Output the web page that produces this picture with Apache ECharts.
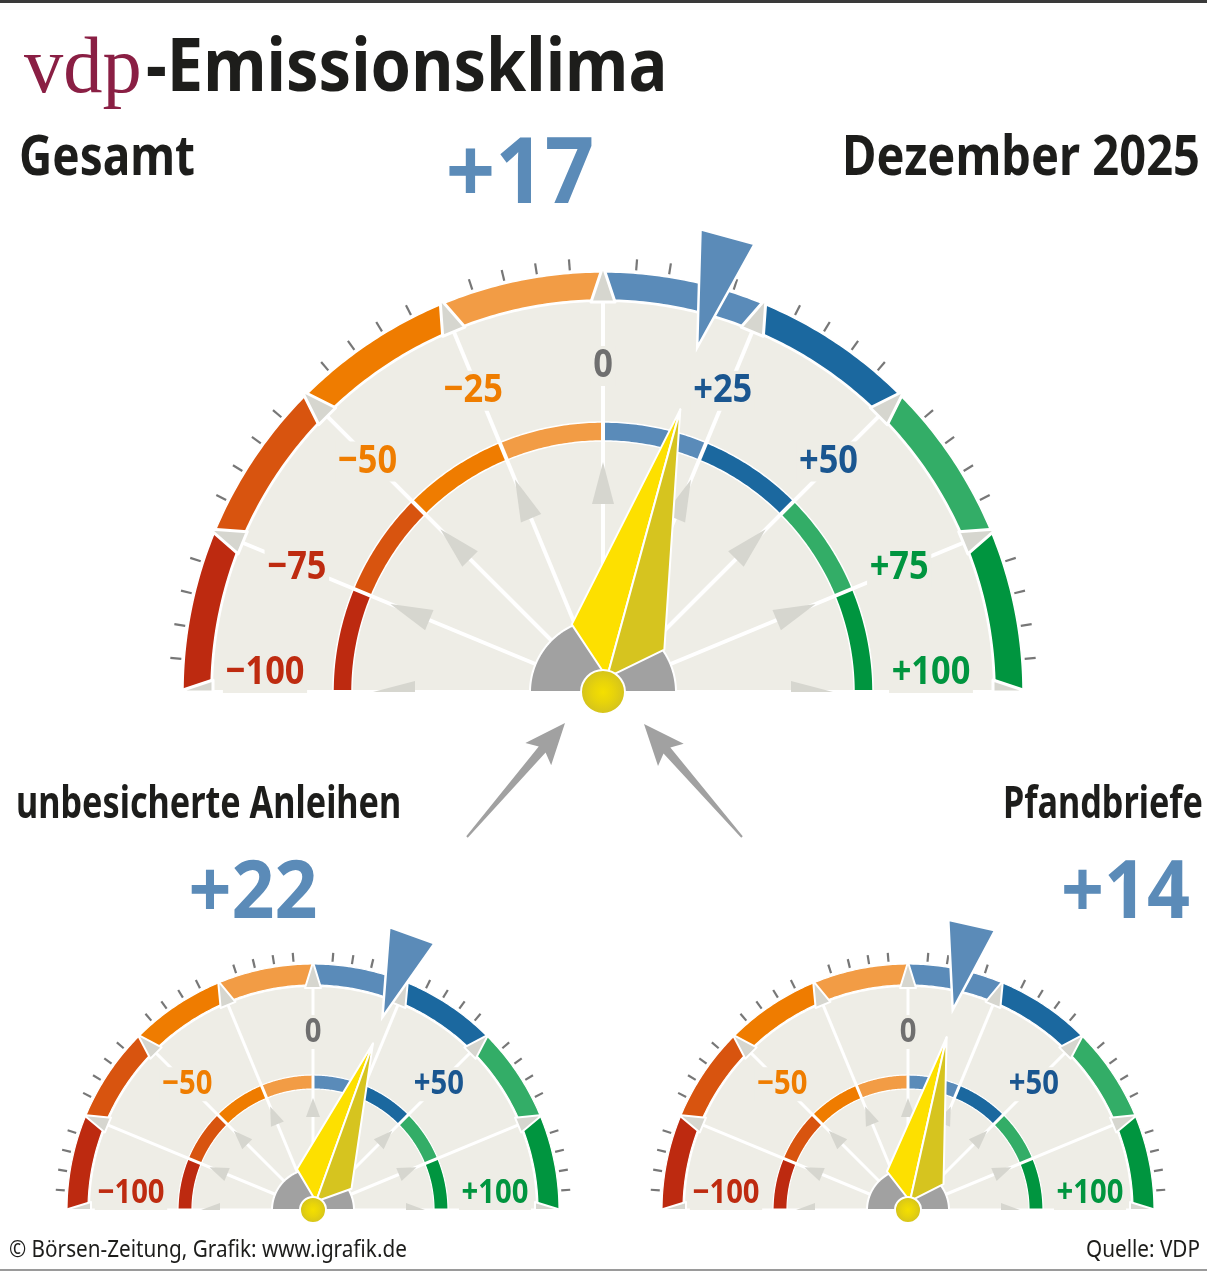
<!DOCTYPE html>
<html>
<head>
<meta charset="utf-8">
<script src="https://cdn.jsdelivr.net/npm/echarts@6/dist/echarts.min.js"></script>
<style>
  html, body { margin: 0; padding: 0; background: #fff; }
  #chart { width: 1207px; height: 1273px; }
</style>
</head>
<body>
<div id="chart"></div>
<script>
// --- values ---
var gaugeNames = ['Gesamt', 'unbesicherte Anleihen', 'Pfandbriefe'];
var gaugeValues = [17, 22, 14];
var reportMonth = 'Dezember 2025';
var bandEdges = [-100, -75, -50, -25, 0, 25, 50, 75, 100];
var mainLabels = ['−100', '−75', '−50', '−25', '0', '+25', '+50', '+75', '+100'];
var smallLabelValues = [-100, -50, 0, 50, 100];
var smallLabels = ['−100', '−50', '0', '+50', '+100'];
var tickStep = 5;
var footerLeft = '© Börsen-Zeitung, Grafik: www.igrafik.de';
var footerRight = 'Quelle: VDP';

// --- styles ---
var bandColors = ['#bd2a10', '#d8540f', '#ef7c00', '#f29c45', '#5a8bb9', '#1b689f', '#33ad67', '#00953f'];
var FILL = '#eeede6', TRI = '#d6d6cf', HUBGRAY = '#a1a1a1', TICK = '#777777';
var BLUE = '#5b8bb8', INK = '#1d1d1b';
var NEEDLE_A = '#fde000', NEEDLE_B = '#d6c41f';
var FONT = '"Noto Sans", "Open Sans", sans-serif';
var DEG_PER_UNIT = 180 / 200;

// gauge geometry (pixels)
var mainGeo = {cx: 603, cy: 692, R: 420, bandIn: 392, fillR: 390, inOut: 270, inIn: 251, hub: 73, spokeW: 4,
  triTip: 426, triBase: 390, triW: 12, triStroke: 3, arrBase: 188, arrTip: 230, arrW: 11, tick0: 423, tick1: 434,
  lblR: 326, lblFont: 40, lbl100R: 333, lbl100dy: -19, lblDx: -5, needleTip: 293, needleMid: 57, needleW: 48,
  needleBase: 15, hubR: 22, mkBase: 472, mkTip: 357, mkW: 28, bandStroke: 1.5};
function smallGeo(cx) {
  return {cx: cx, cy: 1210, R: 246, bandIn: 225, fillR: 223, inOut: 135, inIn: 121, hub: 41, spokeW: 3,
    triTip: 248, triBase: 222, triW: 8, triStroke: 2, arrBase: 93, arrTip: 112, arrW: 7, tick0: 249, tick1: 258,
    lblR: 178, lblFont: 34, lbl100R: 182, lbl100dy: -17, lblDx: 0, needleTip: 177, needleMid: 33, needleW: 29,
    needleBase: 9, hubR: 13, mkBase: 292, mkTip: 205, mkW: 24, bandStroke: 1.2};
}
var geo = [mainGeo, smallGeo(313), smallGeo(908)];

var tickValues = [];
for (var t = bandEdges[0]; t <= bandEdges[bandEdges.length - 1]; t += tickStep) {
  if ((t - bandEdges[0]) % (bandEdges[1] - bandEdges[0]) !== 0) tickValues.push(t);
}

// ring segment as polygon through the polar scale
function arcPoly(api, r0, r1, v0, v1) {
  var pts = [], n = Math.max(4, Math.ceil(Math.abs(v1 - v0) * 1.5)), k;
  for (k = 0; k <= n; k++) pts.push(api.coord([r1, v0 + (v1 - v0) * k / n]));
  for (k = n; k >= 0; k--) pts.push(api.coord([r0, v0 + (v1 - v0) * k / n]));
  return pts;
}
// point at distance r along value direction v, shifted w px sideways (towards larger values)
function pt(api, r, v, w) {
  var rr = Math.sqrt(r * r + w * w);
  var dv = Math.atan2(w, r) * 180 / Math.PI / DEG_PER_UNIT;
  return api.coord([rr, v + dv]);
}
function labelColor(v) {
  if (v <= -75) return '#be2b10';
  if (v < 0) return '#ef7d00';
  if (v === 0) return '#6f6f6f';
  if (v <= 50) return '#1a5690';
  return '#00953f';
}
function fmt(v) { return (v > 0 ? '+' : '') + v; }

function gaugeSeries(gi) {
  var g = geo[gi];
  var labVals = gi ? smallLabelValues : bandEdges;
  var labTexts = gi ? smallLabels : mainLabels;
  var segs = bandEdges.slice(0, -1).map(function (v, i) { return [v, bandEdges[i + 1], i]; });
  var base = {type: 'custom', coordinateSystem: 'polar', polarIndex: gi, silent: true, animation: false};
  var lo = bandEdges[0], hi = bandEdges[bandEdges.length - 1];
  return [
    Object.assign({}, base, {name: gaugeNames[gi] + ' Fläche', z: 1, data: [[0]],
      renderItem: function (p, api) {
        return {type: 'polygon', shape: {points: arcPoly(api, 0, g.fillR, lo, hi)}, style: {fill: FILL}};
      }}),
    Object.assign({}, base, {name: gaugeNames[gi] + ' Skala', z: 2, data: segs,
      renderItem: function (p, api) {
        var v0 = api.value(0), v1 = api.value(1), k = api.value(2);
        return {type: 'group', children: [
          {type: 'polygon', shape: {points: arcPoly(api, g.bandIn, g.R, v0, v1)},
            style: {fill: bandColors[k], stroke: '#fff', lineWidth: g.bandStroke}},
          {type: 'polygon', shape: {points: arcPoly(api, g.inIn, g.inOut, v0, v1)},
            style: {fill: bandColors[k], stroke: '#fff', lineWidth: g.bandStroke}}
        ]};
      }}),
    Object.assign({}, base, {name: gaugeNames[gi] + ' Speichen', z: 3, data: bandEdges.map(function (v) { return [v]; }),
      renderItem: function (p, api) {
        var v = api.value(0);
        var wL = v === lo ? 0 : -1, wR = v === hi ? 0 : 1;
        var c = api.coord([0, v]), e = api.coord([g.bandIn, v]);
        return {type: 'group', children: [
          {type: 'line', shape: {x1: c[0], y1: c[1], x2: e[0], y2: e[1]}, style: {stroke: '#fff', lineWidth: g.spokeW}},
          {type: 'polygon', shape: {points: [pt(api, g.arrTip, v, 0), pt(api, g.arrBase, v, g.arrW * wL), pt(api, g.arrBase, v, g.arrW * wR)]},
            style: {fill: TRI}},
          {type: 'polygon', shape: {points: [pt(api, g.triTip, v, 0), pt(api, g.triBase, v, g.triW * wL), pt(api, g.triBase, v, g.triW * wR)]},
            style: {fill: TRI, stroke: '#fff', lineWidth: g.triStroke, lineJoin: 'round'}}
        ]};
      }}),
    Object.assign({}, base, {name: gaugeNames[gi] + ' Nabe', z: 4, data: [[0]],
      renderItem: function (p, api) {
        return {type: 'polygon', shape: {points: arcPoly(api, 0, g.hub, lo, hi)},
          style: {fill: HUBGRAY, stroke: '#fff', lineWidth: 2}};
      }}),
    Object.assign({}, base, {name: gaugeNames[gi] + ' Ticks', z: 4, data: tickValues.map(function (v) { return [v]; }),
      renderItem: function (p, api) {
        var v = api.value(0), a = api.coord([g.tick0, v]), b = api.coord([g.tick1, v]);
        return {type: 'line', shape: {x1: a[0], y1: a[1], x2: b[0], y2: b[1]}, style: {stroke: TICK, lineWidth: 2.2}};
      }}),
    Object.assign({}, base, {name: gaugeNames[gi] + ' Beschriftung', z: 5, data: labVals.map(function (v, i) { return [v, i]; }),
      renderItem: function (p, api) {
        var v = api.value(0), i = api.value(1);
        var edge = v === lo || v === hi;
        var pos = api.coord([edge ? g.lbl100R : g.lblR, v]);
        return {type: 'text', x: pos[0] + (v === 0 ? 0 : g.lblDx), y: pos[1] + (edge ? g.lbl100dy : 0), scaleX: 0.86,
          style: {text: labTexts[i], font: 'bold ' + g.lblFont + 'px ' + FONT, fill: labelColor(v),
            align: 'center', verticalAlign: 'middle', backgroundColor: FILL, padding: [0, 3]}};
      }}),
    Object.assign({}, base, {name: gaugeNames[gi] + ' Zeiger', z: 6, data: [[gaugeValues[gi]]],
      renderItem: function (p, api) {
        var v = api.value(0), c = api.coord([0, v]);
        var tip = pt(api, g.needleTip, v, 0), b = pt(api, g.needleBase, v, 0);
        return {type: 'group', children: [
          {type: 'polygon', shape: {points: [tip, pt(api, g.needleMid, v, -g.needleW), b]},
            style: {fill: NEEDLE_A, stroke: '#fff', lineWidth: 2, lineJoin: 'round'}},
          {type: 'polygon', shape: {points: [tip, pt(api, g.needleMid, v, g.needleW), b]},
            style: {fill: NEEDLE_B, stroke: '#fff', lineWidth: 2, lineJoin: 'round'}},
          {type: 'circle', shape: {cx: c[0], cy: c[1], r: g.hubR},
            style: {fill: {type: 'radial', x: 0.5, y: 0.5, r: 0.5,
              colorStops: [{offset: 0, color: '#f4df00'}, {offset: 0.45, color: '#e8d40a'}, {offset: 1, color: '#d2c11f'}]},
              stroke: '#fff', lineWidth: 2}}
        ]};
      }}),
    Object.assign({}, base, {name: gaugeNames[gi] + ' Marke', z: 7, data: [[gaugeValues[gi]]],
      renderItem: function (p, api) {
        var v = api.value(0);
        return {type: 'polygon', shape: {points: [pt(api, g.mkBase, v, -g.mkW), pt(api, g.mkBase, v, g.mkW), pt(api, g.mkTip, v, 0)]},
          style: {fill: BLUE, stroke: '#fff', lineWidth: 2.5}};
      }})
  ];
}

function txt(t, x, y, font, fill, align, sx) {
  return {type: 'text', x: x, y: y, scaleX: sx || 1, silent: true, z: 10,
    style: {text: t, font: font, fill: fill, align: align, verticalAlign: 'middle'}};
}
function arrowPts(tail, tip) {
  var dx = tip[0] - tail[0], dy = tip[1] - tail[1], L = Math.sqrt(dx * dx + dy * dy);
  var ux = dx / L, uy = dy / L, px = -uy, py = ux;
  function P(a, b) { return [tail[0] + ux * a + px * b, tail[1] + uy * a + py * b]; }
  return [P(0, -1), P(L - 35, -4.5), P(L - 41, -17), P(L, 0), P(L - 41, 17), P(L - 35, 4.5), P(0, 1)];
}

var chart = echarts.init(document.getElementById('chart'));
var series = [];
geo.forEach(function (g, gi) { series = series.concat(gaugeSeries(gi)); });

chart.setOption({
  animation: false,
  backgroundColor: '#fff',
  polar: geo.map(function (g) { return {center: [g.cx, g.cy], radius: 500}; }),
  radiusAxis: geo.map(function (g, i) {
    return {polarIndex: i, type: 'value', min: 0, max: 500, show: false,
      axisLine: {show: false}, axisTick: {show: false}, axisLabel: {show: false}, splitLine: {show: false}};
  }),
  angleAxis: geo.map(function (g, i) {
    return {polarIndex: i, type: 'value', min: -100, max: 300, startAngle: 180, clockwise: true, show: false,
      axisLine: {show: false}, axisTick: {show: false}, axisLabel: {show: false}, splitLine: {show: false}};
  }),
  graphic: [
    {type: 'rect', shape: {x: 0, y: 0, width: 1207, height: 3}, style: {fill: '#3a3a3a'}, silent: true},
    {type: 'rect', shape: {x: 0, y: 1269, width: 1207, height: 2}, style: {fill: '#9a9a9a'}, silent: true},
    txt('vdp', 24, 71, 'normal 80px "Liberation Serif", "DejaVu Serif", serif', '#8a1f44', 'left', 0.98),
    txt('-Emissionsklima', 146, 70, 'bold 73px ' + FONT, INK, 'left', 0.89),
    txt(gaugeNames[0], 19, 159, 'bold 56px ' + FONT, INK, 'left', 0.82),
    txt(reportMonth, 1200, 159, 'bold 56px ' + FONT, INK, 'right', 0.84),
    txt(fmt(gaugeValues[0]), 520, 177, 'bold 92px ' + FONT, BLUE, 'center', 0.94),
    txt(gaugeNames[1], 16, 805, 'bold 45px ' + FONT, INK, 'left', 0.76),
    txt(gaugeNames[2], 1203, 805, 'bold 45px ' + FONT, INK, 'right', 0.76),
    txt(fmt(gaugeValues[1]), 253, 895, 'bold 80px ' + FONT, BLUE, 'center', 0.94),
    txt(fmt(gaugeValues[2]), 1190, 895, 'bold 80px ' + FONT, BLUE, 'right', 0.94),
    txt(footerLeft, 9, 1250, 'normal 23px ' + FONT, INK, 'left', 0.9),
    txt(footerRight, 1200, 1250, 'normal 23px ' + FONT, INK, 'right', 0.9),
    {type: 'polygon', shape: {points: arrowPts([467, 837], [565, 723])}, style: {fill: '#a1a1a1'}, silent: true},
    {type: 'polygon', shape: {points: arrowPts([742, 837], [644, 724])}, style: {fill: '#a1a1a1'}, silent: true}
  ],
  series: series
});
</script>
</body>
</html>
